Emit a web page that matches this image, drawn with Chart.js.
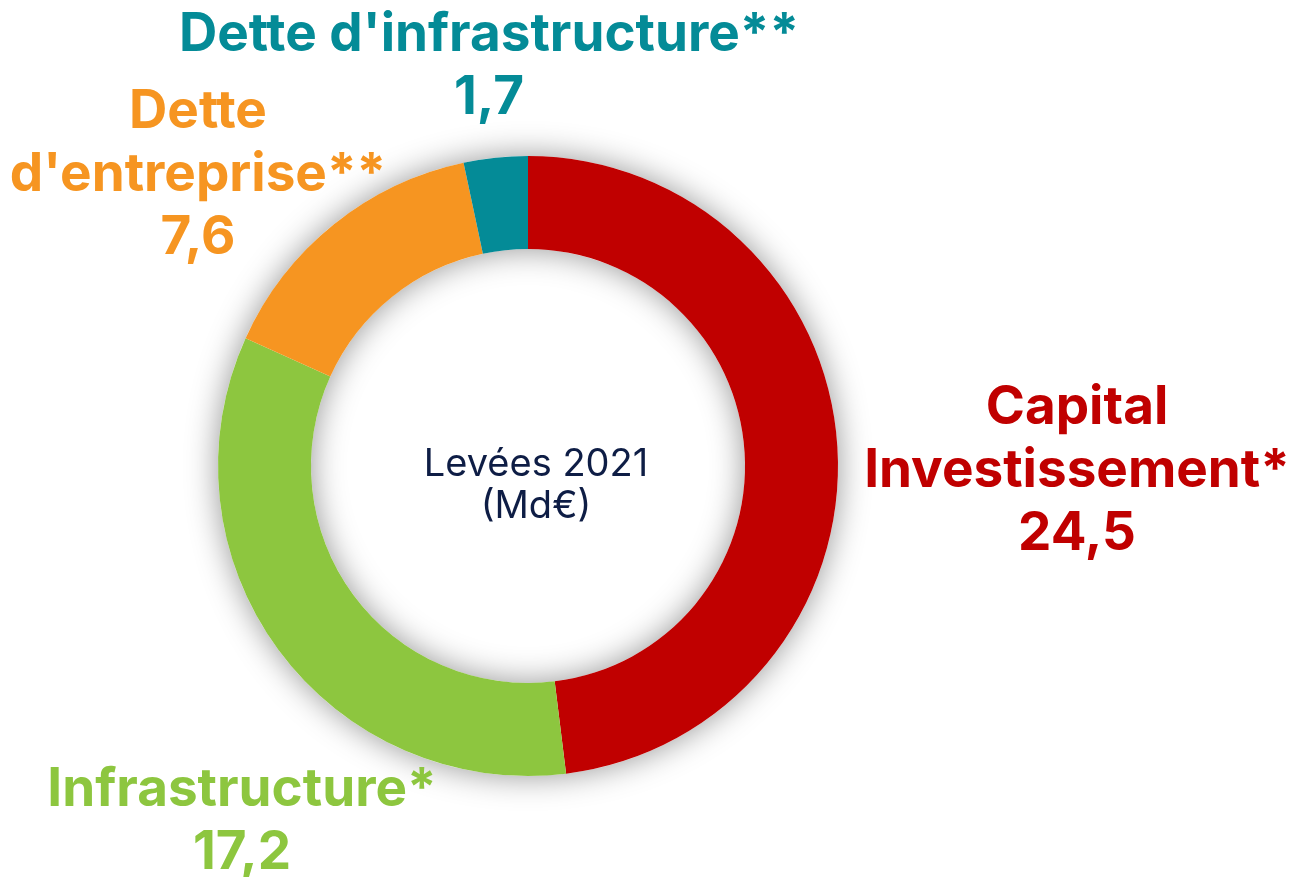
<!DOCTYPE html>
<html>
<head>
<meta charset="utf-8">
<script src="https://cdn.jsdelivr.net/npm/chart.js@4.4.0/dist/chart.umd.min.js"></script>
<style>
  html, body { margin:0; padding:0; background:#fff; }
  #wrap { width:1296px; height:877px; position:relative; }
</style>
</head>
<body>
<div id="wrap"><canvas id="donut"></canvas></div>
<script>
const categories = ["Capital Investissement*", "Infrastructure*", "Dette d'entreprise**", "Dette d'infrastructure**"];
const values = [24.5, 17.2, 7.6, 1.7];
const colors = ["#C00000", "#8DC63F", "#F69521", "#048B97"];
// label lines (text split as in the picture)
const labelLines = [
  ["Capital", "Investissement*"],
  ["Infrastructure*"],
  ["Dette", "d'entreprise**"],
  ["Dette d'infrastructure**"]
];
const centerLines = ["Levées 2021", "(Md€)"];

function fmt(v){ return v.toFixed(1).replace(".", ","); }

// label anchor offsets from the ring centre (first line centre)
const labelOffsets = [[549, -58], [-286, 324], [-330, -354], [-39, -431]];

const ringShadow = {
  id:"ringShadow",
  beforeDatasetsDraw(chart){
    const arc = chart.getDatasetMeta(0).data[0];
    if(!arc) return;
    const ctx = chart.ctx;
    ctx.save();
    ctx.shadowColor = "rgba(0,0,0,0.42)";
    ctx.shadowBlur = 32;
    ctx.fillStyle = "#ffffff";
    ctx.beginPath();
    ctx.arc(arc.x, arc.y, arc.outerRadius, 0, Math.PI*2);
    ctx.arc(arc.x, arc.y, arc.innerRadius, Math.PI*2, 0, true);
    ctx.closePath();
    ctx.fill("evenodd");
    ctx.restore();
  },
  afterDraw(chart){
    const arc = chart.getDatasetMeta(0).data[0];
    if(!arc) return;
    const ctx = chart.ctx;
    const cx = arc.x, cy = arc.y;
    ctx.save();
    ctx.textAlign = "center";
    ctx.textBaseline = "middle";
    // center text
    ctx.fillStyle = "#0E1D45";
    ctx.font = "400 38px Inter";
    ctx.fillText(centerLines[0], cx + 8, cy - 1);
    ctx.fillText(centerLines[1], cx + 8, cy + 41);
    // outer labels
    ctx.font = "700 53px Inter";
    categories.forEach((c, i) => {
      const lines = labelLines[i].concat([fmt(values[i])]);
      const [ox, oy] = labelOffsets[i];
      ctx.fillStyle = colors[i];
      lines.forEach((t, k) => {
        ctx.fillText(t, cx + ox, cy + oy + k*63);
      });
    });
    ctx.restore();
  }
};

new Chart(document.getElementById("donut").getContext("2d"), {
  type:"doughnut",
  data:{
    labels:categories,
    datasets:[{
      data:values,
      backgroundColor:colors,
      borderWidth:0,
      hoverOffset:0
    }]
  },
  options:{
    responsive:true,
    maintainAspectRatio:false,
    animation:false,
    cutout:"70%",
    layout:{ padding:{ top:156, bottom:101, left:218, right:458 } },
    plugins:{ legend:{ display:false }, tooltip:{ enabled:false } }
  },
  plugins:[ringShadow]
});
</script>
</body>
</html>
